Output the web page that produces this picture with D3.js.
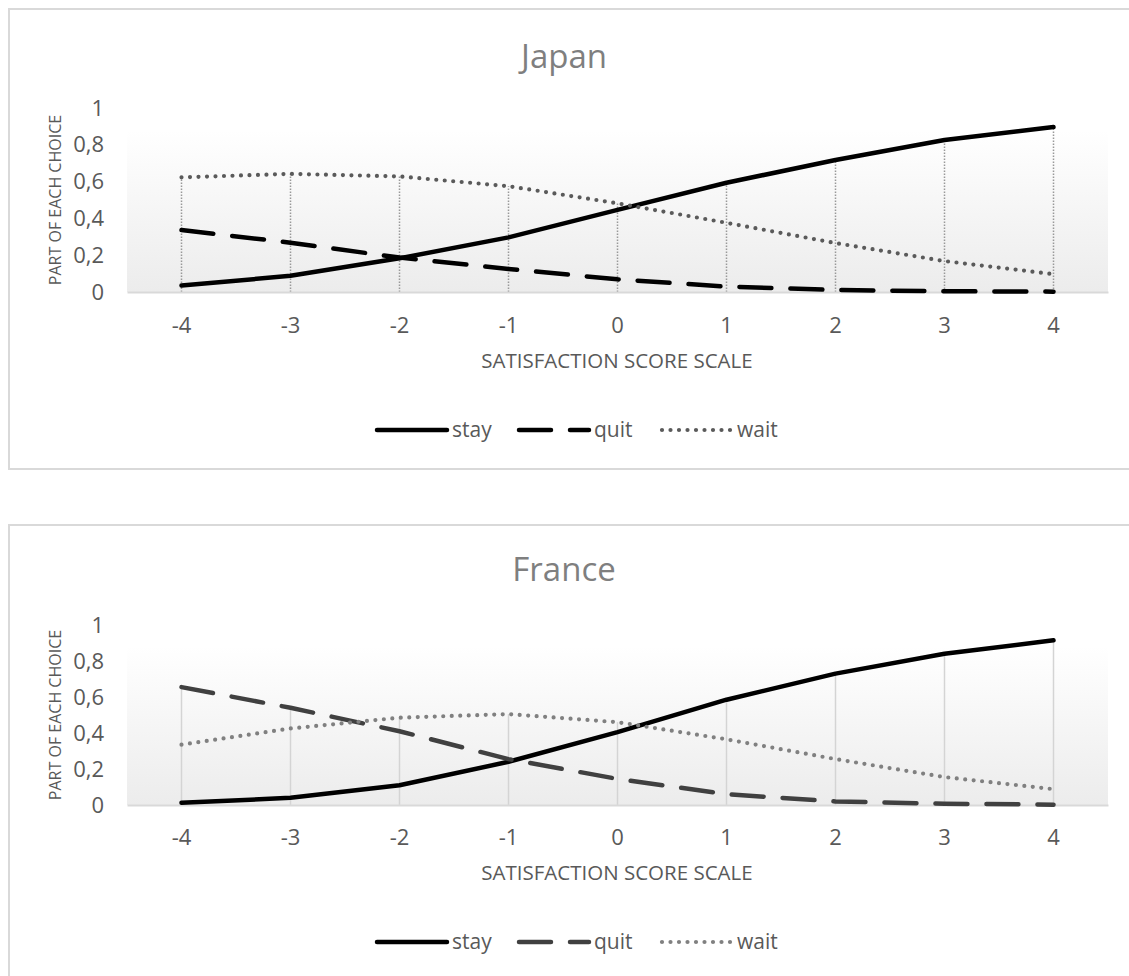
<!DOCTYPE html>
<html>
<head>
<meta charset="utf-8">
<script src="https://cdn.jsdelivr.net/npm/d3@7"></script>
<style>
  body { margin: 0; background: #fff; }
  svg { display: block; font-family: "Open Sans", sans-serif; }
</style>
</head>
<body>
<svg id="chart"></svg>
<script>
// categories of the x axis
var scores = ["-4", "-3", "-2", "-1", "0", "1", "2", "3", "4"];
var yTicks = [0, 0.2, 0.4, 0.6, 0.8, 1];

// Japan series
var japanStay = [0.035, 0.088, 0.183, 0.297, 0.446, 0.594, 0.717, 0.826, 0.897];
var japanQuit = [0.337, 0.268, 0.187, 0.125, 0.069, 0.029, 0.011, 0.004, 0.002];
var japanWait = [0.623, 0.642, 0.628, 0.575, 0.482, 0.376, 0.266, 0.168, 0.097];

// France series
var franceStay = [0.012, 0.040, 0.110, 0.240, 0.405, 0.585, 0.730, 0.840, 0.915];
var franceQuit = [0.655, 0.540, 0.410, 0.255, 0.145, 0.060, 0.020, 0.007, 0.002];
var franceWait = [0.335, 0.425, 0.485, 0.505, 0.460, 0.365, 0.255, 0.155, 0.088];

var seriesNames = ["stay", "quit", "wait"];

var svg = d3.select("#chart").attr("width", 1129).attr("height", 976);
var fmt = d3.formatLocale({ decimal: ",", thousands: " ", grouping: [3], currency: ["", ""] }).format("~g");

// plot area background gradient
var defs = svg.append("defs");
var grad = defs.append("linearGradient").attr("id", "bg")
    .attr("x1", 0).attr("y1", 0).attr("x2", 0).attr("y2", 1);
grad.append("stop").attr("offset", "0%").attr("stop-color", "#ffffff");
grad.append("stop").attr("offset", "12%").attr("stop-color", "#ffffff");
grad.append("stop").attr("offset", "100%").attr("stop-color", "#ececec");

drawChart({
    title: "Japan",
    values: [japanStay, japanQuit, japanWait],
    box: 9, titleY: 68, top: 108, base: 292, tickY: 325, axisTitleY: 361, legendY: 430,
    colors: ["#000000", "#000000", "#5a5a5a"],
    dropColor: "#999999", dropDash: "1.5,1.5"
});

drawChart({
    title: "France",
    values: [franceStay, franceQuit, franceWait],
    box: 525, titleY: 581, top: 625, base: 805, tickY: 837, axisTitleY: 873, legendY: 942,
    colors: ["#000000", "#404040", "#808080"],
    dropColor: "#d4d4d4", dropDash: null
});

function drawChart(c) {
    var g = svg.append("g");

    // chart border
    g.append("rect")
        .attr("x", 9).attr("y", c.box)
        .attr("width", 1140).attr("height", 460)
        .attr("fill", "none").attr("stroke", "#d9d9d9").attr("stroke-width", 2);

    var x = d3.scaleBand().domain(scores).range([127, 1108]);
    var y = d3.scaleLinear().domain([0, 1]).range([c.base, c.top]);
    var cx = function(d) { return x(d) + x.bandwidth() / 2; };

    g.append("rect")
        .attr("x", 127).attr("y", c.top)
        .attr("width", 1108 - 127).attr("height", c.base - c.top)
        .attr("fill", "url(#bg)");

    // title
    g.append("text")
        .attr("x", 564).attr("y", c.titleY)
        .attr("text-anchor", "middle")
        .attr("fill", "#7f7f7f").attr("font-size", 33)
        .text(c.title);

    // drop lines go from the highest point down to the axis
    g.selectAll(".drop").data(scores).enter().append("line")
        .attr("x1", cx).attr("x2", cx)
        .attr("y1", y(0))
        .attr("y2", function(d, i) { return y(d3.max(c.values, function(s) { return s[i]; })); })
        .attr("stroke", c.dropColor).attr("stroke-width", 1.5)
        .attr("stroke-dasharray", c.dropDash);

    // x axis
    var xa = g.append("g")
        .attr("transform", "translate(0," + y(0) + ")")
        .call(d3.axisBottom(x).tickSize(0).tickSizeOuter(0).tickPadding(0));
    xa.select(".domain").attr("stroke", "#d9d9d9").attr("stroke-width", 2);
    xa.selectAll("text")
        .attr("y", c.tickY - c.base).attr("dy", "0.35em")
        .attr("font-size", 22).attr("fill", "#595959")
        .attr("font-family", "Open Sans");

    // y axis
    var ya = g.append("g")
        .attr("transform", "translate(104,0)")
        .call(d3.axisLeft(y).tickValues(yTicks).tickFormat(fmt).tickSize(0).tickPadding(0));
    ya.select(".domain").remove();
    ya.selectAll("text")
        .attr("font-size", 22).attr("fill", "#595959")
        .attr("font-family", "Open Sans");

    // axis titles
    g.append("text")
        .attr("transform", "translate(55," + (c.top + c.base) / 2 + ") rotate(-90)")
        .attr("text-anchor", "middle").attr("dy", "0.35em")
        .attr("font-size", 16).attr("fill", "#595959")
        .text("PART OF EACH CHOICE");

    g.append("text")
        .attr("x", 617).attr("y", c.axisTitleY).attr("dy", "0.35em")
        .attr("text-anchor", "middle")
        .attr("font-size", 20.5).attr("fill", "#595959")
        .text("SATISFACTION SCORE SCALE");

    // series lines
    var line = d3.line()
        .x(function(d, i) { return cx(scores[i]); })
        .y(function(d) { return y(d); });

    c.values.forEach(function(s, k) {
        var p = g.append("path")
            .datum(s)
            .attr("fill", "none")
            .attr("d", line);
        styleSeries(p, k, c.colors[k]);
    });

    // legend
    var lx = [377, 519, 662];
    seriesNames.forEach(function(name, k) {
        var l = g.append("line")
            .attr("x1", lx[k]).attr("x2", lx[k] + 70)
            .attr("y1", c.legendY).attr("y2", c.legendY);
        styleSeries(l, k, c.colors[k]);
        g.append("text")
            .attr("x", lx[k] + 75).attr("y", c.legendY).attr("dy", "0.33em")
            .attr("font-size", 21).attr("fill", "#595959")
            .text(name);
    });
}

function styleSeries(sel, k, color) {
    sel.attr("stroke", color).attr("stroke-linecap", "round").attr("stroke-linejoin", "round");
    if (k === 0) {
        sel.attr("stroke-width", 4.5);
    } else if (k === 1) {
        sel.attr("stroke-width", 4.5).attr("stroke-dasharray", "32,19");
    } else {
        sel.attr("stroke-width", 4.2).attr("stroke-dasharray", "0,8.5");
    }
}
</script>
</body>
</html>
